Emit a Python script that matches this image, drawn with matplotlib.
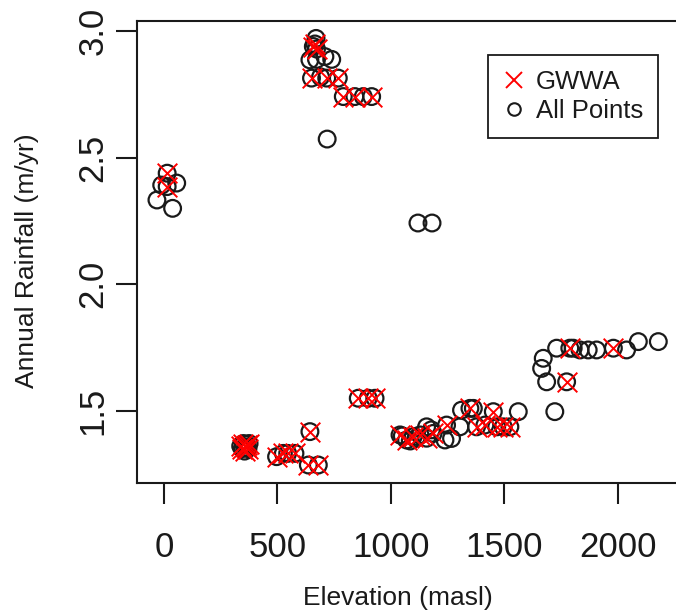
import matplotlib
matplotlib.use("Agg")
import matplotlib.pyplot as plt
from matplotlib.lines import Line2D

plt.rcParams["font.family"] = ["Liberation Sans", "DejaVu Sans"]

# GWWA sites (elevation m, rainfall m/yr)
gwwa_x = [658, 665, 672, 650, 717, 768, 790, 841, 915, 14, 14,
          338, 345, 350, 355, 360, 365, 370, 375,
          496, 526, 545, 577, 643, 636, 680, 856, 900, 930,
          1040, 1069, 1098, 1128, 1157, 1186, 1245, 1348, 1377, 1414,
          1451, 1466, 1495, 1524, 1788, 1980, 1774]
gwwa_y = [2.94, 2.95, 2.93, 2.815, 2.815, 2.815, 2.742, 2.742, 2.742, 2.439, 2.386,
          1.36, 1.35, 1.37, 1.34, 1.355, 1.365, 1.35, 1.37,
          1.318, 1.331, 1.331, 1.331, 1.417, 1.285, 1.285, 1.549, 1.549, 1.549,
          1.404, 1.384, 1.397, 1.404, 1.391, 1.41, 1.443, 1.509, 1.436, 1.443,
          1.496, 1.436, 1.436, 1.436, 1.747, 1.747, 1.614]

# remaining points (non-GWWA)
other_x = [670, 643, 672, 709, 739, 690, 719, 878, -10, 56, -31, 38,
           1119, 1181, 1050, 1085, 1110, 1157, 1178, 1238, 1267, 1304, 1311,
           1363, 1561, 1722, 1671, 1664, 1686, 1730, 1803, 1833, 1869, 1906,
           2038, 2090, 2178]
other_y = [2.972, 2.887, 2.889, 2.9, 2.889, 2.82, 2.574, 2.742, 2.392, 2.40, 2.333, 2.30,
           2.242, 2.242, 1.40, 1.38, 1.39, 1.436, 1.424, 1.384, 1.39, 1.436, 1.502,
           1.509, 1.496, 1.496, 1.707, 1.667, 1.614, 1.747, 1.747, 1.74, 1.74, 1.74,
           1.74, 1.773, 1.773]

all_x = gwwa_x + other_x
all_y = gwwa_y + other_y

INK = "#1a1a1a"

fig = plt.figure(figsize=(6.76, 6.15), dpi=100)
ax = fig.add_axes([0.2031, 0.2151, 0.808, 0.7502])

ax.scatter(all_x, all_y, s=145, facecolors="none", edgecolors=INK,
           linewidths=1.6, zorder=2, clip_on=False)
ax.scatter(gwwa_x, gwwa_y, s=200, marker="x", color="red",
           linewidths=1.4, zorder=3, clip_on=False)

ax.set_xlim(-117.6, 2289)
ax.set_ylim(1.215, 3.0395)
ax.set_xticks([0, 500, 1000, 1500, 2000])
ax.set_yticks([1.5, 2.0, 2.5, 3.0])
ax.set_yticklabels(["1.5", "2.0", "2.5", "3.0"], rotation=90, va="center")

ax.spines["right"].set_visible(False)
for s in ax.spines.values():
    s.set_linewidth(1.5)
    s.set_color(INK)
ax.tick_params(direction="out", length=15, width=1.5, color=INK,
               labelsize=25, labelcolor=INK)
ax.tick_params(axis="x", pad=20)
ax.tick_params(axis="y", pad=5)

fig.text(398 / 676, 1 - 598 / 615, "Elevation (masl)", ha="center", va="center",
         fontsize=19, color=INK)
fig.text(27.5 / 676, 1 - 261 / 615, "Annual Rainfall (m/yr)", ha="center", va="center",
         rotation=90, fontsize=19, color=INK)

handles = [
    Line2D([], [], marker="x", color="red", linestyle="none", markersize=12, markeredgewidth=1.4),
    Line2D([], [], marker="o", markerfacecolor="none", markeredgecolor=INK,
           linestyle="none", markersize=9, markeredgewidth=1.5),
]
leg = ax.legend(handles, ["GWWA", "All Points"], loc="upper left",
                bbox_to_anchor=(488 / 676, 1 - 55 / 615), bbox_transform=fig.transFigure,
                fontsize=18.5, frameon=True, fancybox=False, framealpha=1,
                borderpad=0.6, labelspacing=0.18, handlelength=0.8, handletextpad=0.45,
                borderaxespad=0)
leg.get_frame().set_edgecolor(INK)
leg.get_frame().set_linewidth(1.3)
for t in leg.get_texts():
    t.set_color(INK)

fig.savefig("out.png", dpi=100)
